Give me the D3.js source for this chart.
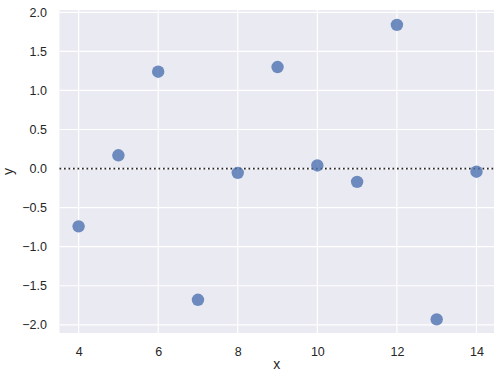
<!DOCTYPE html>
<html>
<head>
<meta charset="utf-8">
<script src="https://cdn.jsdelivr.net/npm/d3@7"></script>
<style>
  body { margin: 0; background: #fff; }
  text { font-family: "Liberation Sans", Arial, sans-serif; fill: #262626; }
</style>
</head>
<body>
<div id="chart"></div>
<script>
// residual values
const xValues = [4, 5, 6, 7, 8, 9, 10, 11, 12, 13, 14];
const yValues = [-0.74, 0.17, 1.24, -1.68, -0.055, 1.30, 0.04, -0.17, 1.84, -1.93, -0.04];
const xTicks = [4, 6, 8, 10, 12, 14];
const yTicks = [-2.0, -1.5, -1.0, -0.5, 0.0, 0.5, 1.0, 1.5, 2.0];

let width = 504, height = 378;
let margin = { top: 10, bottom: 45, right: 10, left: 59.5 };

let svg = d3.select('#chart')
            .append('svg')
            .attr('width', width)
            .attr('height', height);

let xScale = d3.scaleLinear()
               .domain([3.52, 14.44])
               .range([margin.left, width - margin.right]);

let yScale = d3.scaleLinear()
               .domain([-2.105, 2.03])
               .range([height - margin.bottom, margin.top]);

// plot background
svg.append('rect')
    .attr('x', margin.left)
    .attr('y', margin.top)
    .attr('width', width - margin.right - margin.left)
    .attr('height', height - margin.bottom - margin.top)
    .attr('fill', '#eaeaf2');

// grid
svg.append('g')
    .selectAll('line')
    .data(xTicks)
    .join('line')
    .attr('x1', d => xScale(d))
    .attr('x2', d => xScale(d))
    .attr('y1', margin.top)
    .attr('y2', height - margin.bottom)
    .attr('stroke', '#fff')
    .attr('stroke-width', 1.2);

svg.append('g')
    .selectAll('line')
    .data(yTicks)
    .join('line')
    .attr('x1', margin.left)
    .attr('x2', width - margin.right)
    .attr('y1', d => yScale(d))
    .attr('y2', d => yScale(d))
    .attr('stroke', '#fff')
    .attr('stroke-width', 1.2);

// axes (ticks hidden, labels only)
let xAxis = svg.append('g')
    .attr('transform', `translate(0,${height - margin.bottom})`)
    .call(d3.axisBottom(xScale).tickValues(xTicks).tickSize(0).tickPadding(14).tickFormat(d3.format('d')));
xAxis.select('.domain').remove();
xAxis.selectAll('text').style('font-size', '12.5px').style('font-family', 'Liberation Sans, Arial, sans-serif').attr('fill', '#262626');

let yAxis = svg.append('g')
    .attr('transform', `translate(${margin.left},0)`)
    .call(d3.axisLeft(yScale).tickValues(yTicks).tickSize(0).tickPadding(12.5).tickFormat(d3.format('.1f')));
yAxis.select('.domain').remove();
yAxis.selectAll('text').style('font-size', '12.5px').style('font-family', 'Liberation Sans, Arial, sans-serif').attr('fill', '#262626');

// axis labels
svg.append('text')
    .attr('x', (margin.left + width - margin.right) / 2)
    .attr('y', height - 9)
    .attr('text-anchor', 'middle')
    .style('font-size', '14px')
    .text('x');

svg.append('text')
    .attr('transform', `translate(13,${(margin.top + height - margin.bottom) / 2}) rotate(-90)`)
    .attr('text-anchor', 'middle')
    .style('font-size', '14px')
    .text('y');

// zero line
svg.append('line')
    .attr('x1', margin.left)
    .attr('x2', width - margin.right)
    .attr('y1', yScale(0))
    .attr('y2', yScale(0))
    .attr('stroke', '#262626')
    .attr('stroke-width', 1.7)
    .attr('stroke-dasharray', '1.7,2.8');

// points
svg.append('g')
    .selectAll('circle')
    .data(xValues.map((x, i) => ({ x: x, y: yValues[i] })))
    .join('circle')
    .attr('cx', d => xScale(d.x))
    .attr('cy', d => yScale(d.y))
    .attr('r', 6.2)
    .attr('fill', '#4c72b0')
    .attr('fill-opacity', 0.8);
</script>
</body>
</html>
